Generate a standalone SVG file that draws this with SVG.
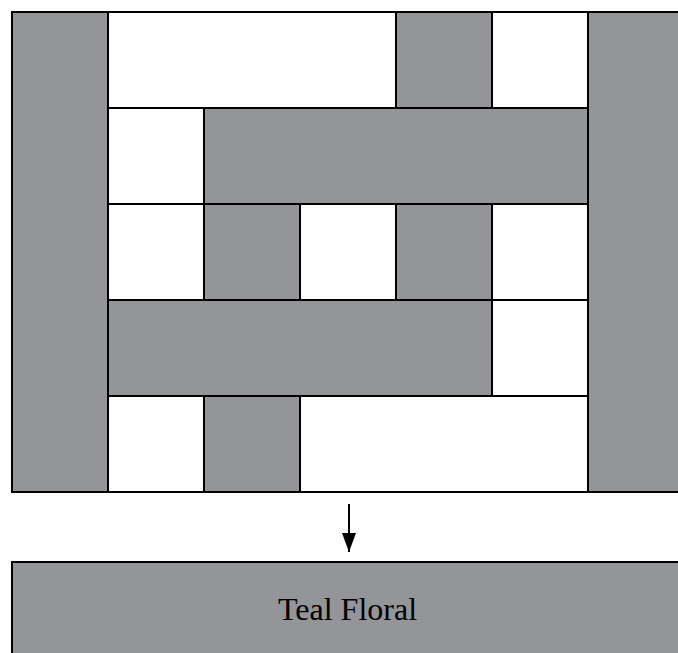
<svg xmlns="http://www.w3.org/2000/svg" width="678" height="653" viewBox="0 0 678 653">
<style>
.g{fill:#939598;stroke:#000;stroke-width:2}
.w{fill:#fff;stroke:#000;stroke-width:2}
.t{font-family:"Liberation Serif","Times New Roman",serif;font-size:32px;fill:#000}
</style>
<defs>
<marker id="ah" markerWidth="20" markerHeight="14" refX="19" refY="7" orient="auto" markerUnits="userSpaceOnUse" viewBox="0 0 20 14">
<path d="M0,0 L19,7 L0,14 Z" fill="#000"/>
</marker>
</defs>
<rect width="678" height="653" fill="#fff"/>
<g id="grid">
<rect id="left" class="g" x="12" y="12" width="96" height="480"/>
<rect id="right" class="g" x="588" y="12" width="96" height="480"/>
<rect class="w" x="108" y="12" width="288" height="96"/>
<rect class="g" x="396" y="12" width="96" height="96"/>
<rect class="w" x="492" y="12" width="96" height="96"/>
<rect class="w" x="108" y="108" width="96" height="96"/>
<rect class="g" x="204" y="108" width="384" height="96"/>
<rect class="w" x="108" y="204" width="96" height="96"/>
<rect class="g" x="204" y="204" width="96" height="96"/>
<rect class="w" x="300" y="204" width="96" height="96"/>
<rect class="g" x="396" y="204" width="96" height="96"/>
<rect class="w" x="492" y="204" width="96" height="96"/>
<rect class="g" x="108" y="300" width="384" height="96"/>
<rect class="w" x="492" y="300" width="96" height="96"/>
<rect class="w" x="108" y="396" width="96" height="96"/>
<rect class="g" x="204" y="396" width="96" height="96"/>
<rect class="w" x="300" y="396" width="288" height="96"/>
</g>
<g id="connectors">
<line x1="349" y1="504" x2="349" y2="552" stroke="#000" stroke-width="2" marker-end="url(#ah)"/>
</g>
<g id="result">
<rect class="g" x="12" y="562" width="680" height="100"/>
<text class="t" x="347.5" y="620" text-anchor="middle">Teal Floral</text>
</g>
</svg>
